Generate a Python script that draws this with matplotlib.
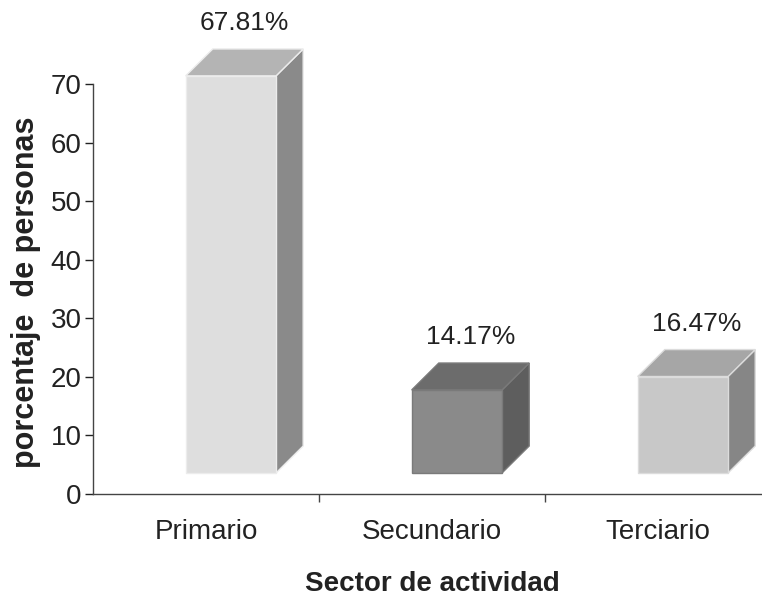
import matplotlib.pyplot as plt
from matplotlib.patches import Polygon

# data
categories = ['Primario', 'Secundario', 'Terciario']
values = [67.81, 14.17, 16.47]
labels = ['67.81%', '14.17%', '16.47%']

front_colors = ['#dedede', '#8a8a8a', '#c8c8c8']
side_colors = ['#8a8a8a', '#5e5e5e', '#868686']
top_colors = ['#b4b4b4', '#6c6c6c', '#a6a6a6']
edge_colors = ['#ececec', '#7a7a7a', '#dcdcdc']

plt.rcParams['font.family'] = ['Liberation Sans Narrow', 'Liberation Sans', 'DejaVu Sans']

fig = plt.figure(figsize=(7.62, 6.01), dpi=100)
ax = fig.add_axes([0.122, 0.178, 0.878, 0.682])

base = 3.6     # floor of the 3d boxes
w = 0.4        # front face width
dx, dy = 0.12, 4.6   # depth offset

for i, v in enumerate(values):
    x0 = i + 0.41
    x1 = x0 + w
    y0 = base
    y1 = base + v
    front = Polygon([(x0, y0), (x1, y0), (x1, y1), (x0, y1)], closed=True,
                    facecolor=front_colors[i], edgecolor=edge_colors[i], lw=1, clip_on=False)
    side = Polygon([(x1, y0), (x1 + dx, y0 + dy), (x1 + dx, y1 + dy), (x1, y1)], closed=True,
                   facecolor=side_colors[i], edgecolor=edge_colors[i], lw=1, clip_on=False)
    top = Polygon([(x0, y1), (x1, y1), (x1 + dx, y1 + dy), (x0 + dx, y1 + dy)], closed=True,
                  facecolor=top_colors[i], edgecolor=edge_colors[i], lw=1, clip_on=False)
    ax.add_patch(side)
    ax.add_patch(top)
    ax.add_patch(front)
    ax.annotate(labels[i], (x0 + w / 2 + dx / 2, y1 + dy), xytext=(0, 10),
                textcoords='offset points', ha='center', va='bottom', fontsize=19,
                color='#222222', annotation_clip=False)

ax.set_xlim(0, 2.96)
ax.set_ylim(0, 70)
ax.set_yticks(range(0, 71, 10))
ax.set_xticks([1, 2])
ax.set_xticklabels([])
ax.tick_params(axis='y', labelsize=20, length=6, width=1, colors='#222222', pad=2)
ax.tick_params(axis='x', length=6, width=1, color='#444444')
for i, c in enumerate(categories):
    ax.text(i + 0.5, -4.2, c, ha='center', va='top', fontsize=20, color='#222222')

ax.spines['top'].set_visible(False)
ax.spines['right'].set_visible(False)
for s in ['left', 'bottom']:
    ax.spines[s].set_color('#444444')
    ax.spines[s].set_linewidth(1)

fig.text(0.034, 0.513, 'porcentaje  de personas', rotation=90, ha='center', va='center',
         fontsize=22, fontweight='bold', family=['Liberation Sans', 'DejaVu Sans'],
         color='#222222')
fig.text(0.567, 0.028, 'Sector de actividad', ha='center', va='center',
         fontsize=20, fontweight='bold', family=['Liberation Sans', 'DejaVu Sans'],
         color='#222222')

fig.savefig('out.png', dpi=100)
